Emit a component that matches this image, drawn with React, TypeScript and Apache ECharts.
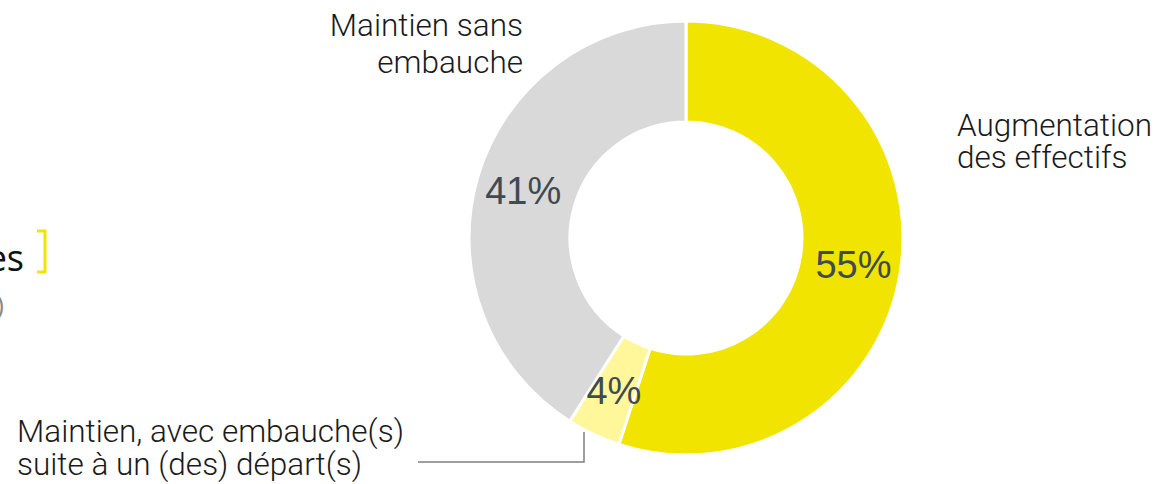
import React, { useEffect, useRef } from "react";
import * as echarts from "echarts";

const categories = [
  "Augmentation des effectifs",
  "Maintien, avec embauche(s) suite à un (des) départ(s)",
  "Maintien sans embauche",
];
const values = [55, 4, 41];
const colors = ["#F0E400", "#FFF799", "#D9D9D9"];
const outerLabelLines = [
  ["Augmentation", "des effectifs"],
  ["Maintien, avec embauche(s)", "suite à un (des) départ(s)"],
  ["Maintien sans", "embauche"],
];

export default function App() {
  const ref = useRef<HTMLDivElement>(null);
  useEffect(() => {
    if (!ref.current) return;
    const chart = echarts.init(ref.current, undefined, { renderer: "svg" });
    const outerFont = {
      fontFamily: "Roboto",
      fontWeight: 300,
      fontSize: 31.5,
      fill: "#1a1a1a",
      textVerticalAlign: "middle",
    };
    const blockText = (lines: string[], x: number, y: number, lh: number, align: string) => ({
      type: "text",
      x,
      y,
      style: { ...outerFont, text: lines.join("\n"), lineHeight: lh, textAlign: align },
    });
    chart.setOption({
      animation: false,
      backgroundColor: "#ffffff",
      series: [
        {
          type: "pie",
          center: [686, 238],
          radius: [116, 217],
          startAngle: 90,
          clockwise: true,
          avoidLabelOverlap: false,
          itemStyle: { borderColor: "#ffffff", borderWidth: 3 },
          label: {
            show: true,
            position: "inside",
            formatter: "{c}%",
            fontFamily: "Liberation Sans, Arial",
            fontSize: 38,
            color: "#3F4A51",
          },
          labelLine: { show: false },
          emphasis: { disabled: true },
          data: categories.map((name, i) => ({
            name,
            value: values[i],
            itemStyle: { color: colors[i] },
          })),
        },
      ],
      graphic: [
        blockText(outerLabelLines[0], 957, 141, 32, "left"),
        blockText(outerLabelLines[2], 523, 43.5, 37, "right"),
        blockText(outerLabelLines[1], 17, 447.5, 33, "left"),
        {
          type: "polyline",
          shape: { points: [[584, 432], [584, 462], [418, 462]] },
          style: { stroke: "#7F7F7F", lineWidth: 1.5, fill: null },
        },
        {
          type: "text",
          x: 24,
          y: 257,
          style: {
            text: "es",
            fontFamily: "Open Sans",
            fontSize: 36,
            fill: "#111111",
            textAlign: "right",
            textVerticalAlign: "middle",
          },
        },
        {
          type: "polyline",
          shape: { points: [[37, 231], [45, 231], [45, 272], [37, 272]] },
          style: { stroke: "#F0E400", lineWidth: 3, fill: null },
        },
        {
          type: "text",
          x: 4,
          y: 304,
          style: {
            text: ")",
            fontFamily: "Open Sans",
            fontSize: 26,
            fill: "#888888",
            textAlign: "right",
            textVerticalAlign: "middle",
          },
        },
      ],
    });
    return () => chart.dispose();
  }, []);
  return (
    <div
      ref={ref}
      style={{ position: "fixed", left: 0, top: 0, width: 1158, height: 484 }}
    />
  );
}
